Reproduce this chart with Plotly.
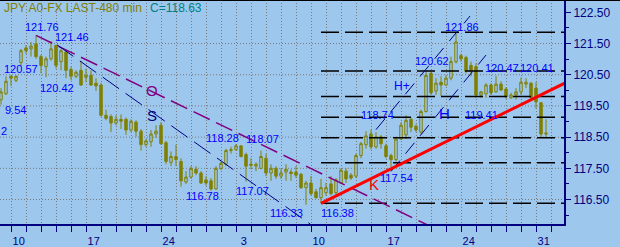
import plotly.graph_objects as go

# ---------------- data (480-min bars, bar index 0..109) ----------------
bar = list(range(110))
open_ = [119.70,119.89,120.45,120.32,120.89,121.36,121.33,121.49,121.08,120.76,
         121.01,121.44,120.92,121.23,120.67,120.45,120.64,120.42,120.48,120.23,
         120.17,119.20,119.16,118.95,119.07,119.07,118.73,118.98,118.69,118.26,
         118.35,118.60,118.88,118.32,117.69,117.88,117.72,117.06,117.22,117.47,
         117.35,117.13,117.10,116.84,117.50,117.63,118.07,118.10,118.22,117.94,
         117.63,117.57,117.50,117.82,117.35,117.50,117.25,117.38,117.38,117.38,
         117.31,116.88,117.03,116.75,116.56,116.72,117.00,116.72,117.03,117.41,
         117.28,117.25,117.91,118.26,118.60,118.19,118.51,118.22,117.91,117.78,
         118.44,118.57,119.07,118.85,118.66,119.32,120.54,119.98,120.26,120.17,
         120.39,120.92,121.11,121.05,120.80,120.76,119.85,119.89,120.17,119.95,
         120.20,120.04,119.76,119.85,119.95,120.20,120.23,120.07,119.60,118.60]
high = [120.07,120.45,120.48,120.48,121.33,121.45,121.55,121.76,121.14,121.08,
        121.58,121.46,121.33,121.30,120.76,120.64,120.95,120.70,120.64,120.39,
        120.23,119.38,119.23,119.20,119.23,119.13,119.07,119.04,118.76,118.44,
        118.73,118.88,118.98,118.38,118.04,118.26,117.82,117.41,117.57,117.57,
        117.41,117.25,117.19,117.57,117.72,118.13,118.19,118.28,118.24,118.00,
        117.82,117.69,118.07,117.97,117.63,117.57,117.50,117.63,117.47,117.57,
        117.35,117.10,117.25,116.84,117.16,117.03,117.25,117.19,117.50,117.50,
        117.35,117.97,118.35,118.69,118.74,118.66,118.57,118.29,117.97,118.51,
        118.98,119.20,119.13,118.91,119.38,120.62,120.60,120.39,120.45,120.48,
        121.08,121.86,121.17,121.11,120.92,120.86,119.98,120.23,120.23,120.47,
        120.29,120.10,119.92,120.07,120.41,120.39,120.26,120.26,119.63,119.07]
low = [119.54,119.85,120.14,120.26,120.76,121.17,121.08,121.01,120.54,120.42,
       120.95,120.70,120.64,120.39,120.32,120.39,120.14,120.26,120.14,119.98,
       119.16,119.04,118.66,118.88,118.76,118.57,118.66,118.51,118.07,118.19,
       118.19,118.47,118.26,117.63,117.57,117.57,116.91,117.00,117.16,117.28,
       117.00,116.94,116.78,116.81,117.44,117.57,117.97,118.07,117.85,117.07,
       117.47,117.41,117.47,117.25,117.10,117.16,117.16,117.10,117.10,117.19,
       116.84,116.33,116.63,116.53,116.38,116.63,116.63,116.63,117.00,117.03,
       117.13,117.19,117.82,118.13,118.10,118.13,118.13,117.82,117.54,117.72,
       118.41,118.44,118.66,118.66,118.60,119.29,119.85,119.85,119.82,120.14,
       120.32,120.86,120.92,120.54,120.45,119.76,119.76,119.76,119.85,119.92,
       119.98,119.73,119.73,119.70,119.85,120.07,119.70,119.41,118.47,118.47]
close = [119.95,120.29,120.39,120.45,121.27,121.27,121.42,121.08,120.80,121.01,
         121.33,120.80,121.27,120.64,120.45,120.58,120.17,120.48,120.17,120.14,
         119.20,119.10,118.95,119.07,119.01,118.73,119.01,118.69,118.26,118.38,
         118.60,118.69,118.29,117.72,117.88,117.78,117.10,117.22,117.50,117.35,
         117.03,117.03,116.84,117.50,117.66,118.07,118.10,118.22,117.88,117.57,
         117.60,117.63,117.88,117.35,117.50,117.25,117.35,117.47,117.33,117.28,
         116.88,117.03,116.69,116.56,116.88,116.88,116.69,117.13,117.44,117.16,
         117.19,117.91,118.29,118.54,118.19,118.51,118.29,117.88,117.78,118.44,
         118.88,119.04,118.82,118.73,119.32,120.48,119.92,120.23,120.17,120.39,
         120.92,121.55,121.01,120.61,120.61,119.85,119.95,120.17,119.92,120.20,
         120.01,119.79,119.85,119.95,120.26,120.26,119.76,119.63,118.60,118.63]

week_ticks = [2.14, 17.14, 32.14, 47.14, 62.14, 77.14, 92.14, 107.14]
week_labels = ["10", "17", "24", "3", "10", "17", "24", "31"]
first_day_tick = 2.14
bars_per_day = 3
n_days = 37
price_ticks = [116.5, 117.5, 118.5, 119.5, 120.5, 121.5, 122.5]
price_minor = [116, 117, 118, 119, 120, 121, 122]
grid_levels = [116.5, 117.5, 118.5, 119.5, 120.5, 121.5]
fib_levels = [121.86, 120.62, 119.80, 119.14, 118.48, 117.68, 116.38]
fib_start = 64

o_line = ([7, 86], [121.76, 115.63])
s_line = ([11.2, 61.8], [121.46, 115.72])
a_line = ([75, 93.8], [118.74, 122.38])
b_line = ([78, 97], [117.40, 121.13])
red_line = ([64, 113], [116.38, 120.25])

price_labels = [
    ("121.76", 8.2, 122.03, "center"), ("121.46", 14.2, 121.70, "center"),
    ("120.57", 4.0, 120.68, "center"), ("120.42", 11.2, 120.09, "center"),
    ("9.54", 0.5, 119.37, "left"), ("2", -0.2, 118.69, "left"),
    ("118.28", 44.2, 118.46, "center"), ("118.07", 52.2, 118.43, "center"),
    ("116.78", 40.2, 116.60, "center"), ("117.07", 50.2, 116.77, "center"),
    ("116.33", 57.0, 116.08, "center"), ("116.38", 67.2, 116.08, "center"),
    ("118.74", 75.2, 119.21, "center"), ("117.54", 79.0, 117.19, "center"),
    ("120.62", 86.2, 120.94, "center"), ("121.86", 92.2, 122.03, "center"),
    ("120.47", 100.2, 120.72, "center"), ("120.41", 110.8, 120.72, "right"),
    ("119.41", 96.0, 119.21, "center"),
]
letters = [("H+", 80.1, 120.15, "#0000FF"), ("H", 88.6, 119.27, "#0000FF"),
           ("O", 30.2, 119.98, "#800080"), ("S", 30.2, 119.18, "#000080"),
           ("K", 74.6, 116.97, "#FF0000")]

BG = "rgb(158,199,238)"
OLIVE = "#808000"
NAVY = "#000080"
FONT = "Liberation Sans, Arial, sans-serif"

fig = go.Figure()
fig.add_trace(go.Candlestick(
    x=bar, open=open_, high=high, low=low, close=close,
    increasing=dict(line=dict(color=OLIVE, width=1), fillcolor=BG),
    decreasing=dict(line=dict(color=OLIVE, width=1), fillcolor=OLIVE),
    showlegend=False, hoverinfo="skip"))

for lvl in fib_levels:
    fig.add_trace(go.Scatter(x=[fib_start, 113], y=[lvl, lvl], mode="lines",
                             line=dict(color="black", width=1.5, dash="18px,6px"),
                             showlegend=False, hoverinfo="skip"))

fig.add_trace(go.Scatter(x=o_line[0], y=o_line[1], mode="lines",
                         line=dict(color="#800080", width=1.5, dash="18px,7px"),
                         showlegend=False, hoverinfo="skip"))
fig.add_trace(go.Scatter(x=s_line[0], y=s_line[1], mode="lines",
                         line=dict(color=NAVY, width=1, dash="20px,8px"),
                         showlegend=False, hoverinfo="skip"))
for ln in (a_line, b_line):
    fig.add_trace(go.Scatter(x=ln[0], y=ln[1], mode="lines",
                             line=dict(color=NAVY, width=1, dash="14px,9px"),
                             showlegend=False, hoverinfo="skip"))
fig.add_trace(go.Scatter(x=red_line[0], y=red_line[1], mode="lines",
                         line=dict(color="#FF0000", width=3),
                         showlegend=False, hoverinfo="skip"))

annotations = []
for txt, x, y, anc in price_labels:
    annotations.append(dict(x=x, y=y, xref="x", yref="y", text=txt, showarrow=False,
                            xanchor=anc, yanchor="middle", borderpad=0,
                            font=dict(family=FONT, size=11, color="#0000FF")))
for txt, x, y, col in letters:
    annotations.append(dict(x=x, y=y, xref="x", yref="y", text=txt, showarrow=False,
                            xanchor="center", yanchor="middle",
                            font=dict(family=FONT, size=15 if len(txt) == 1 else 12, color=col)))
annotations.append(dict(x=0.004, y=0.965, xref="paper", yref="paper",
                        text="JPY A0-FX LAST-480 min", showarrow=False,
                        xanchor="left", yanchor="middle",
                        font=dict(family=FONT, size=12, color=OLIVE)))
annotations.append(dict(x=0.262, y=0.965, xref="paper", yref="paper",
                        text="C=118.63", showarrow=False,
                        xanchor="left", yanchor="middle",
                        font=dict(family=FONT, size=12, color="#008080")))

shapes = []
for lvl in grid_levels:
    shapes.append(dict(type="line", xref="paper", yref="y", x0=0, x1=1, y0=lvl, y1=lvl,
                       line=dict(color="#7a7a7a", width=1, dash="1px,2px"), layer="below"))
shapes.append(dict(type="line", xref="paper", yref="paper", x0=0, x1=1.1, y0=1, y1=1,
                   line=dict(color="black", width=2)))

day_ticks = [first_day_tick + bars_per_day * n for n in range(n_days)]

fig.update_layout(
    width=620, height=247,
    margin=dict(l=0, r=56, t=0, b=18, pad=0),
    paper_bgcolor=BG, plot_bgcolor=BG,
    showlegend=False,
    annotations=annotations, shapes=shapes,
    xaxis=dict(range=[-0.2, 112.6], rangeslider=dict(visible=False),
               tickmode="array", tickvals=week_ticks, ticktext=week_labels,
               ticks="outside", ticklen=6, tickcolor=NAVY, tickwidth=1,
               showline=True, linecolor=NAVY, linewidth=2, zeroline=False,
               showgrid=True, gridcolor="#7a7a7a", griddash="1px,2px", gridwidth=1,
               tickfont=dict(family=FONT, size=11, color=NAVY), ticklabelshift=7,
               minor=dict(tickmode="array", tickvals=day_ticks, ticks="outside",
                          ticklen=6, tickcolor=NAVY, showgrid=True,
                          gridcolor="#7a7a7a", griddash="1px,2px", gridwidth=1)),
    yaxis=dict(range=[115.716, 122.895], side="right",
               tickmode="array", tickvals=price_ticks,
               ticktext=["%.2f" % v for v in price_ticks],
               ticks="outside", ticklen=5, tickcolor=NAVY, tickwidth=1,
               showline=True, linecolor=NAVY, linewidth=2, zeroline=False,
               showgrid=False,
               tickfont=dict(family=FONT, size=12, color=NAVY),
               minor=dict(tickmode="array", tickvals=price_minor, ticks="outside",
                          ticklen=3, tickcolor=NAVY, showgrid=False)),
)

fig.write_html("out.html")
